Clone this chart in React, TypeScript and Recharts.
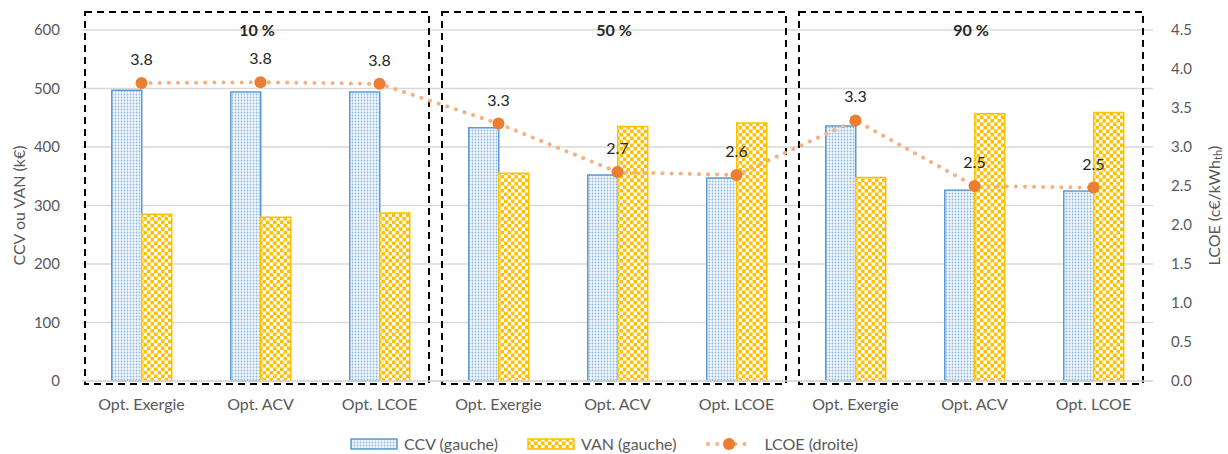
import React from 'react'
import {
  ComposedChart, Bar, Line, XAxis, YAxis, CartesianGrid, Legend, LabelList, ReferenceArea,
} from 'recharts'

// ─── Data ─────────────────────────────────────────────────────────────────────
const categories = [
  'Opt. Exergie', 'Opt. ACV', 'Opt. LCOE',
  'Opt. Exergie', 'Opt. ACV', 'Opt. LCOE',
  'Opt. Exergie', 'Opt. ACV', 'Opt. LCOE',
]
const ccv  = [497, 494, 494, 433, 352, 347, 436, 326, 325]
const van  = [285, 280, 287, 355, 435, 441, 348, 457, 459]
const lcoe = [3.82, 3.83, 3.81, 3.30, 2.68, 2.64, 3.34, 2.50, 2.48]
const groupLabels = ['10 %', '50 %', '90 %']
const leftTicks  = [0, 100, 200, 300, 400, 500, 600]
const rightTicks = [0, 0.5, 1, 1.5, 2, 2.5, 3, 3.5, 4, 4.5]

const data = categories.map((name, i) => ({
  id: `c${i}`, name, ccv: ccv[i], van: van[i], lcoe: lcoe[i],
}))

// ─── Styles ───────────────────────────────────────────────────────────────────
const FONT = 'Lato, "Noto Sans", sans-serif'
const GREY = '#595959'
const BLUE = '#5B9BD5'
const GOLD = '#FFC000'
const ORANGE = '#ED7D31'
const ORANGE_LIGHT = '#F4B183'
const tick  = { fill: GREY, fontSize: 15, fontFamily: FONT }
const xTick = { fill: GREY, fontSize: 16, fontFamily: FONT }

function Patterns() {
  return (
    <defs>
      <pattern id="ccvFill" width="3" height="3" patternUnits="userSpaceOnUse">
        <rect width="3" height="3" fill="#F2F7FC" />
        <circle cx="1.5" cy="1.5" r="0.9" fill="#8DB9E3" />
      </pattern>
      <pattern id="vanFill" width="7" height="7" patternUnits="userSpaceOnUse">
        <rect width="7" height="7" fill={GOLD} />
        <rect width="3.5" height="3.5" fill="#fff" />
        <rect x="3.5" y="3.5" width="3.5" height="3.5" fill="#fff" />
      </pattern>
    </defs>
  )
}

// dashed box around each group of three options
const groupBox = (label: string) => (props: any) => {
  const { x, y, width, height } = props
  return (
    <g>
      <rect
        x={x + 3} y={y - 18} width={width - 13} height={height + 21}
        fill="none" stroke="#000" strokeWidth={2} strokeDasharray="7 5"
      />
      <text
        x={x + 3 + (width - 13) / 2} y={y + 6} textAnchor="middle"
        fontFamily={FONT} fontSize={16} fontWeight={700} fill="#262626"
      >
        {label}
      </text>
    </g>
  )
}

function LegendContent() {
  const item = { display: 'flex', alignItems: 'center', gap: 6 }
  return (
    <div style={{ display: 'flex', justifyContent: 'center', gap: 29, fontFamily: FONT, fontSize: 16, color: GREY, paddingTop: 13, marginLeft: -20 }}>
      <div style={item}>
        <svg width={48} height={12}>
          <rect x={1} y={1} width={46} height={10} fill="url(#ccvFill)" stroke={BLUE} strokeWidth={1.5} />
        </svg>
        <span>CCV (gauche)</span>
      </div>
      <div style={item}>
        <svg width={48} height={12}>
          <rect x={1} y={1} width={46} height={10} fill="url(#vanFill)" stroke={GOLD} strokeWidth={1.5} />
        </svg>
        <span>VAN (gauche)</span>
      </div>
      <div style={{ ...item, gap: 11 }}>
        <svg width={48} height={14}>
          <line x1={3} y1={7} x2={46} y2={7} stroke={ORANGE_LIGHT} strokeWidth={4} strokeLinecap="round" strokeDasharray="0.1 9" />
          <circle cx={24} cy={7} r={6} fill={ORANGE} />
        </svg>
        <span>LCOE (droite)</span>
      </div>
    </div>
  )
}

const leftLabel = (props: any) => {
  const vb = props.viewBox
  const cx = vb.x + 18
  const cy = vb.y + vb.height / 2
  return (
    <text x={cx} y={cy} transform={`rotate(-90 ${cx} ${cy})`} textAnchor="middle"
      dominantBaseline="central" fontFamily={FONT} fontSize={16} fill={GREY}>
      CCV ou VAN (k€)
    </text>
  )
}

const rightLabel = (props: any) => {
  const vb = props.viewBox
  const cx = vb.x + 60
  const cy = vb.y + vb.height / 2
  return (
    <text x={cx} y={cy} transform={`rotate(-90 ${cx} ${cy})`} textAnchor="middle"
      dominantBaseline="central" fontFamily={FONT} fontSize={16} fill={GREY}>
      LCOE (c€/kWh<tspan fontSize={11} dy={4}>th</tspan><tspan dy={-4}>)</tspan>
    </text>
  )
}

export default function App() {
  return (
    <div style={{ position: 'absolute', left: 0, top: 0, fontFamily: FONT, background: '#fff' }}>
      <ComposedChart
        width={1228} height={454} data={data}
        margin={{ top: 30, right: 0, left: 0, bottom: 0 }}
        barCategoryGap="25%" barGap={0}
      >
        <Patterns />
        <CartesianGrid vertical={false} stroke="#D9D9D9" strokeWidth={1.5} yAxisId="left" />
        <XAxis
          dataKey="id" height={40} tickFormatter={(v: string, i: number) => categories[i]}
          tick={xTick} tickLine={false} axisLine={{ stroke: '#D9D9D9', strokeWidth: 1.5 }} tickMargin={12}
        />
        <YAxis
          yAxisId="left" width={82} domain={[0, 600]} ticks={leftTicks}
          tick={tick} tickLine={false} axisLine={false} tickMargin={16}
          label={leftLabel}
        />
        <YAxis
          yAxisId="right" orientation="right" width={75} domain={[0, 4.5]} ticks={rightTicks}
          tickFormatter={(v: number) => v.toFixed(1)}
          tick={tick} tickLine={false} axisLine={false} tickMargin={12}
          label={rightLabel}
        />
        <Legend verticalAlign="bottom" height={33} content={<LegendContent />} />
        <Bar yAxisId="left" dataKey="ccv" fill="url(#ccvFill)" stroke={BLUE} strokeWidth={1.5} isAnimationActive={false} />
        <Bar yAxisId="left" dataKey="van" fill="url(#vanFill)" stroke={GOLD} strokeWidth={1.5} isAnimationActive={false} />
        {groupLabels.map((g, k) => (
          <ReferenceArea
            key={g} yAxisId="left" x1={`c${k * 3}`} x2={`c${k * 3 + 2}`}
            ifOverflow="visible" shape={groupBox(g)}
          />
        ))}
        <Line
          yAxisId="right" dataKey="lcoe" type="linear"
          stroke={ORANGE_LIGHT} strokeWidth={4} strokeLinecap="round" strokeDasharray="0.1 9"
          dot={{ r: 6, fill: ORANGE, stroke: 'none' }} activeDot={false}
          isAnimationActive={false}
        >
          <LabelList
            dataKey="lcoe" position="top" offset={18}
            formatter={(v: any) => Number(v).toFixed(1)}
            style={{ fontFamily: FONT, fontSize: 16, fill: '#262626' }}
          />
        </Line>
      </ComposedChart>
    </div>
  )
}
